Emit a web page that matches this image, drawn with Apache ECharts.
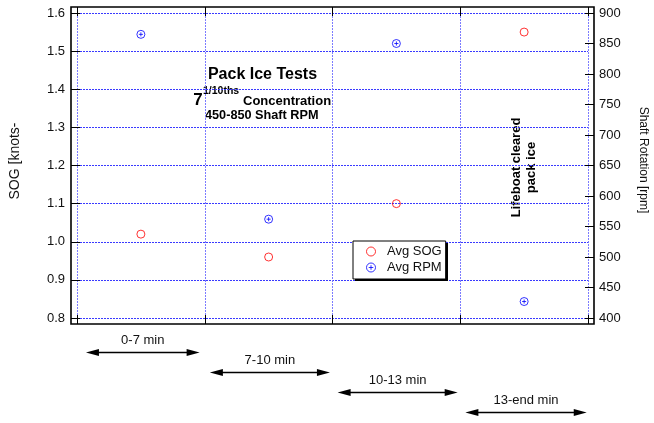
<!DOCTYPE html>
<html>
<head>
<meta charset="utf-8">
<script src="https://cdn.jsdelivr.net/npm/echarts@6/dist/echarts.min.js"></script>
<style>
html,body{margin:0;padding:0;background:#fff;}
#chart{width:654px;height:423px;}
</style>
</head>
<body>
<div id="chart"></div>
<script>
// ---- data ----
var periodPos = [0.5, 1.5, 2.5, 3.5];           // column centres of the 4 periods
var avgSOG = [1.02, 0.96, 1.10, 1.55];          // knots
var avgRPM = [865, 562, 850, 427];              // rpm
var seriesNames = ['Avg SOG', 'Avg RPM'];
var periodLabels = ['0-7 min', '7-10 min', '10-13 min', '13-end min'];
var arrowStart = [0.07, 1.04, 2.04, 3.04];
var arrowEnd = [0.96, 1.98, 2.98, 3.99];
var sogTicks = [0.8, 1.6, 0.1];                 // min, max, step
var rpmTicks = [400, 900, 50];

// ---- layout ----
var FONT = 'Liberation Sans, Arial, Helvetica, sans-serif';
var G = {left: 77, top: 13, width: 511, height: 305};
var PAD = 6;
var HGRID = '#3a3aff';
var VGRID = '#7c7cff';
var LEG = {left: 353, top: 241, pad: [4, 4, 5, 13], iconW: 22, iconH: 9, gap: 3, font: 13, boxW: 93, boxH: 38};

var chart = echarts.init(document.getElementById('chart'), null, {renderer: 'canvas'});

function tickAxisCommon() {
  return {
    axisLine: {show: false, onZero: false},
    axisTick: {show: true, inside: true, length: 9, lineStyle: {color: '#000', width: 1}},
    offset: PAD
  };
}

var circlePath = 'path://M0,-4.5A4.5,4.5,0,1,1,0,4.5A4.5,4.5,0,1,1,0,-4.5Z';
var circlePlusPath = 'path://M0,-4.5A4.5,4.5,0,1,1,0,4.5A4.5,4.5,0,1,1,0,-4.5ZM-2.3,0L2.3,0M0,-2.3L0,2.3';

var option = {
  animation: false,
  backgroundColor: '#fff',
  textStyle: {fontFamily: FONT},
  grid: {left: G.left, top: G.top, width: G.width, height: G.height, containLabel: false},
  xAxis: [
    Object.assign(tickAxisCommon(), {
      type: 'value', position: 'bottom', min: 0, max: 4, interval: 1,
      axisLabel: {show: false},
      splitLine: {show: true, lineStyle: {color: VGRID, type: [2, 1], width: 1}}
    }),
    Object.assign(tickAxisCommon(), {
      type: 'value', position: 'top', min: 0, max: 4, interval: 1,
      axisLabel: {show: false}, splitLine: {show: false}
    })
  ],
  yAxis: [
    Object.assign(tickAxisCommon(), {
      type: 'value', position: 'left',
      min: sogTicks[0], max: sogTicks[1], interval: sogTicks[2],
      axisLabel: {margin: 6, fontSize: 13, color: '#111', fontFamily: FONT,
        formatter: function (v) { return v.toFixed(1); }},
      splitLine: {show: true, lineStyle: {color: HGRID, type: [2, 1], width: 1}}
    }),
    Object.assign(tickAxisCommon(), {
      type: 'value', position: 'right',
      min: rpmTicks[0], max: rpmTicks[1], interval: rpmTicks[2],
      axisLabel: {margin: 5, fontSize: 13, color: '#111', fontFamily: FONT},
      splitLine: {show: false}
    })
  ],
  legend: {
    orient: 'vertical', left: LEG.left, top: LEG.top,
    itemWidth: LEG.iconW, itemHeight: LEG.iconH, itemGap: LEG.gap,
    padding: LEG.pad,
    borderColor: '#000', borderWidth: 1, backgroundColor: '#fff',
    itemStyle: {borderWidth: 1},
    textStyle: {fontSize: LEG.font, color: '#111', fontFamily: FONT},
    data: seriesNames,
    z: 20
  },
  series: [
    {
      name: seriesNames[0], type: 'scatter', xAxisIndex: 0, yAxisIndex: 0,
      symbol: circlePath, symbolSize: 8,
      itemStyle: {color: 'rgba(0,0,0,0)', borderColor: '#ff0000', borderWidth: 1},
      data: periodPos.map(function (x, i) { return [x, avgSOG[i]]; }),
      z: 5
    },
    {
      name: seriesNames[1], type: 'scatter', xAxisIndex: 0, yAxisIndex: 1,
      symbol: circlePlusPath, symbolSize: 8,
      itemStyle: {color: 'rgba(0,0,0,0)', borderColor: '#0000ff', borderWidth: 1},
      data: periodPos.map(function (x, i) { return [x, avgRPM[i]]; }),
      z: 5
    },
    {
      type: 'custom', xAxisIndex: 0, yAxisIndex: 0, clip: false, silent: true,
      data: arrowStart.map(function (s) { return [s, sogTicks[0]]; }),
      renderItem: function (params, api) {
        var i = params.dataIndex;
        var p1 = api.coord([arrowStart[i], sogTicks[0]]);
        var p2 = api.coord([arrowEnd[i], sogTicks[0]]);
        var y = p1[1] + 34.5 + 20 * i;
        var x1 = p1[0], x2 = p2[0];
        var hl = 13, hw = 3.5;
        return {
          type: 'group',
          children: [
            {type: 'line', shape: {x1: x1 + hl - 1, y1: y, x2: x2 - hl + 1, y2: y},
              style: {stroke: '#000', lineWidth: 1.5}},
            {type: 'polygon', shape: {points: [[x1, y], [x1 + hl, y - hw], [x1 + hl, y + hw]]},
              style: {fill: '#000'}},
            {type: 'polygon', shape: {points: [[x2, y], [x2 - hl, y - hw], [x2 - hl, y + hw]]},
              style: {fill: '#000'}},
            {type: 'text', x: (x1 + x2) / 2, y: y - 12,
              style: {text: periodLabels[i], fill: '#111', font: '13px ' + FONT,
                align: 'center', verticalAlign: 'middle'}}
          ]
        };
      },
      z: 10
    }
  ],
  graphic: [
    {type: 'rect', shape: {x: G.left - PAD, y: G.top - PAD, width: G.width + 2 * PAD, height: G.height + 2 * PAD},
      style: {fill: 'none', stroke: '#000', lineWidth: 1.6}, z: 100, silent: true},
    // legend drop shadow
    {type: 'rect', shape: {x: LEG.left + 2, y: LEG.top + 2, width: LEG.boxW, height: LEG.boxH},
      style: {fill: '#000'}, z: 15, silent: true},
    {type: 'text', x: 15, y: 161, rotation: Math.PI / 2,
      style: {text: 'SOG [knots-', fill: '#111', font: '14px ' + FONT, align: 'center', verticalAlign: 'middle'}},
    {type: 'text', x: 643, y: 160, rotation: -Math.PI / 2,
      style: {text: 'Shaft Rotation [rpm]', fill: '#111', font: '12px ' + FONT, align: 'center', verticalAlign: 'middle'}},
    {type: 'text', x: 262.5, y: 75,
      style: {text: 'Pack Ice Tests', fill: '#000', font: 'bold 16px ' + FONT, align: 'center', verticalAlign: 'middle'}},
    {type: 'text', x: 198, y: 100,
      style: {text: '7', fill: '#000', font: 'bold 17px ' + FONT, align: 'center', verticalAlign: 'middle'}},
    {type: 'text', x: 203, y: 91.5,
      style: {text: '1/10ths', fill: '#000', font: 'bold 10.5px ' + FONT, align: 'left', verticalAlign: 'middle'}},
    {type: 'text', x: 243, y: 101.5,
      style: {text: 'Concentration', fill: '#000', font: 'bold 13px ' + FONT, align: 'left', verticalAlign: 'middle'}},
    {type: 'text', x: 205, y: 115,
      style: {text: '450-850 Shaft RPM', fill: '#000', font: 'bold 12.7px ' + FONT, align: 'left', verticalAlign: 'middle'}},
    {type: 'text', x: 524, y: 167.5, rotation: Math.PI / 2,
      style: {text: 'Lifeboat cleared\npack ice', fill: '#000', font: 'bold 13px ' + FONT,
        align: 'center', verticalAlign: 'middle', lineHeight: 15.5}}
  ]
};
chart.setOption(option);
</script>
</body>
</html>
